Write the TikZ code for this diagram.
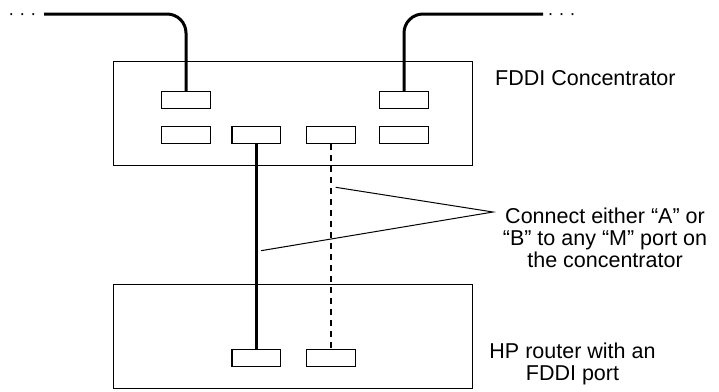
\documentclass[tikz,border=0pt]{standalone}
\usepackage{fontspec}
\setmainfont{Liberation Sans}
\usetikzlibrary{positioning,calc}

\begin{document}
\begin{tikzpicture}[
  x=1pt, y=-1pt,
  font=\fontsize{21.5}{22}\selectfont,
  box/.style={
    rectangle, draw=black, line width=1.4pt,
    minimum width=359pt, minimum height=103.6pt, inner sep=0pt,
  },
  port/.style={rectangle, draw=black, line width=1.3pt,
               minimum width=48.5pt, minimum height=17pt, inner sep=0pt},
  cable/.style={line width=3pt, rounded corners=19pt},
  link/.style={line width=3pt},
  altlink/.style={line width=1.3pt, dash pattern=on 6pt off 5pt},
  leader/.style={line width=1pt},
  txt/.style={align=center, inner sep=0pt},
  dots/.style={inner sep=0pt, font=\fontsize{18}{18}\selectfont},
]
\useasboundingbox (0,0) rectangle (719,391);

\node[box]  (conc)   at (292.8,113.5) {};
\node[box]  (router) at (293,336.5)   {};

% concentrator ports
\node[port] (cA) at (186,100.3) {};
\node[port] (cB) at (404,100.3) {};
\node[port] (m1) at (186,135.2) {};
\node[port] (m2) at (256.3,135.2) {};
\node[port] (m3) at (331,135.2) {};
\node[port] (m4) at (404,135.2) {};

% router ports
\node[port] (rA) at (256.3,357.8) {};
\node[port] (rB) at (331,357.8)   {};

% ring cables
\coordinate (endL) at (44,14);
\coordinate (endR) at (543,14);
\node[dots, anchor=mid] (dotsL) at (22.3,17)  {·\hspace{5pt}·\hspace{5pt}·};
\node[dots, anchor=mid] (dotsR) at (561.7,17) {·\hspace{5pt}·\hspace{5pt}·};
\draw[cable] (endL) -- (endL -| cA) -- (cA.north);
\draw[cable] (endR) -- (endR -| cB) -- (cB.north);

\draw[link]    (m2.south) -- (rA.north);
\draw[altlink] (m3.south) -- (rB.north);

% callout
\coordinate (tip)    at (493,212);
\coordinate (onAlt)  at (335.7,187.3);
\coordinate (onLink) at (261,250.7);
\draw[leader] (onAlt) -- (tip) -- (onLink);

\node[txt, anchor=base west] (concLbl) at (495,85) {FDDI Concentrator};
\node[txt] (note) at (605,237.6)
  {Connect either “A” or\\“B” to any “M” port on\\the concentrator};
\node[txt] (routerLbl) at (572.5,363.7) {HP router with an\\FDDI port};
\end{tikzpicture}
\end{document}
